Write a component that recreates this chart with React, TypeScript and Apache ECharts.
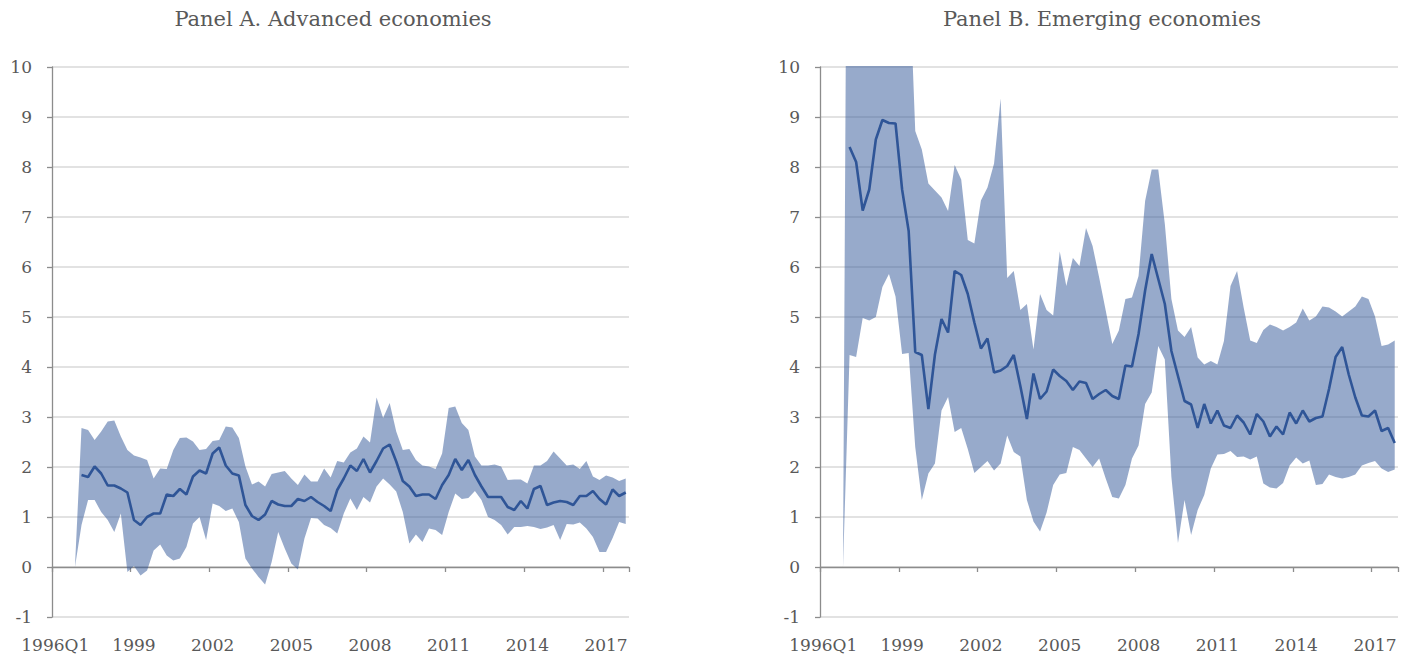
import React, { useEffect, useRef } from "react";
import * as echarts from "echarts";

// Quarterly categories 1996Q1 .. 2017Q4
const years: number[] = [1996,1997,1998,1999,2000,2001,2002,2003,2004,2005,2006,2007,2008,2009,2010,2011,2012,2013,2014,2015,2016,2017];
const categories: string[] = years.flatMap((y) => [1, 2, 3, 4].map((q) => `${y}Q${q}`));

const titleA = "Panel A. Advanced economies";
const titleB = "Panel B. Emerging economies";
const yMin = -1;
const yMax = 10;

// Panel A: advanced economies
const lowerA: (number | null)[] = [null,null,null, 0, 0.84, 1.34, 1.34, 1.10, 0.94, 0.70, 1.07, -0.10, 0.02, -0.17, -0.07, 0.33, 0.45, 0.23, 0.13, 0.17, 0.40, 0.87, 1.00, 0.54, 1.27, 1.22, 1.12, 1.17, 0.90, 0.17, -0.03, -0.20, -0.35, 0.10, 0.70, 0.37, 0.07, -0.05, 0.57, 0.98, 0.97, 0.84, 0.78, 0.67, 1.07, 1.37, 1.14, 1.40, 1.29, 1.61, 1.77, 1.65, 1.51, 1.10, 0.47, 0.65, 0.50, 0.77, 0.74, 0.64, 1.10, 1.47, 1.36, 1.38, 1.52, 1.34, 1.00, 0.94, 0.84, 0.65, 0.80, 0.80, 0.82, 0.80, 0.76, 0.79, 0.84, 0.54, 0.86, 0.85, 0.89, 0.77, 0.60, 0.30, 0.30, 0.58, 0.90, 0.86];
const upperA: (number | null)[] = [null,null,null, 0, 2.78, 2.74, 2.54, 2.71, 2.91, 2.93, 2.61, 2.34, 2.23, 2.19, 2.14, 1.77, 1.97, 1.96, 2.34, 2.58, 2.59, 2.51, 2.34, 2.36, 2.52, 2.54, 2.81, 2.79, 2.58, 2.01, 1.65, 1.71, 1.61, 1.86, 1.89, 1.92, 1.77, 1.64, 1.85, 1.71, 1.71, 1.97, 1.79, 2.12, 2.09, 2.29, 2.37, 2.61, 2.49, 3.39, 2.98, 3.28, 2.71, 2.34, 2.36, 2.14, 2.03, 2.01, 1.96, 2.27, 3.18, 3.21, 2.88, 2.74, 2.21, 2.03, 2.03, 2.05, 2.01, 1.74, 1.75, 1.75, 1.67, 2.03, 2.03, 2.12, 2.31, 2.17, 2.03, 2.05, 1.96, 2.12, 1.81, 1.74, 1.83, 1.79, 1.72, 1.77];
const midA: (number | null)[] = [null,null,null,null, 1.84, 1.80, 2.01, 1.87, 1.63, 1.63, 1.57, 1.49, 0.94, 0.84, 1.00, 1.07, 1.07, 1.45, 1.42, 1.56, 1.45, 1.81, 1.93, 1.87, 2.27, 2.39, 2.03, 1.87, 1.83, 1.24, 1.02, 0.94, 1.05, 1.32, 1.25, 1.22, 1.22, 1.36, 1.32, 1.40, 1.30, 1.22, 1.12, 1.54, 1.77, 2.03, 1.92, 2.16, 1.89, 2.12, 2.37, 2.45, 2.11, 1.72, 1.61, 1.42, 1.45, 1.45, 1.36, 1.64, 1.84, 2.16, 1.94, 2.14, 1.84, 1.61, 1.40, 1.40, 1.40, 1.20, 1.14, 1.32, 1.17, 1.56, 1.62, 1.24, 1.29, 1.32, 1.30, 1.24, 1.42, 1.42, 1.52, 1.36, 1.25, 1.55, 1.42, 1.49];

// Panel B: emerging economies
const lowerB: (number | null)[] = [null,null,null, 0, 4.24, 4.20, 4.98, 4.93, 5.00, 5.60, 5.86, 5.41, 4.26, 4.28, 2.40, 1.34, 1.87, 2.07, 3.13, 3.40, 2.70, 2.78, 2.36, 1.88, 2.00, 2.12, 1.93, 2.07, 2.63, 2.30, 2.21, 1.34, 0.91, 0.71, 1.09, 1.64, 1.85, 1.88, 2.40, 2.34, 2.17, 2.00, 2.17, 1.77, 1.40, 1.37, 1.64, 2.17, 2.43, 3.26, 3.49, 4.42, 4.15, 1.80, 0.48, 1.34, 0.64, 1.14, 1.44, 1.97, 2.25, 2.26, 2.32, 2.20, 2.21, 2.15, 2.21, 1.67, 1.59, 1.57, 1.68, 2.03, 2.19, 2.07, 2.13, 1.64, 1.66, 1.85, 1.80, 1.77, 1.80, 1.85, 2.03, 2.08, 2.12, 1.97, 1.90, 1.95];
const upperB: (number | null)[] = [null,null,null, 0, 24, 13, 12.5, 12.5, 13, 13.5, 13, 13, 12.5, 12.2, 8.72, 8.35, 7.67, 7.53, 7.39, 7.12, 8.04, 7.75, 6.54, 6.47, 7.33, 7.59, 8.07, 9.37, 5.78, 5.92, 5.14, 5.26, 4.35, 5.46, 5.14, 5.03, 6.31, 5.62, 6.18, 6.02, 6.78, 6.42, 5.79, 5.13, 4.46, 4.73, 5.36, 5.39, 5.82, 7.32, 7.95, 7.95, 6.86, 5.36, 4.73, 4.60, 4.80, 4.19, 4.05, 4.12, 4.05, 4.52, 5.62, 5.92, 5.19, 4.53, 4.48, 4.74, 4.85, 4.80, 4.73, 4.80, 4.89, 5.17, 4.93, 5.01, 5.21, 5.19, 5.11, 5.01, 5.11, 5.21, 5.41, 5.36, 5.01, 4.42, 4.45, 4.53];
const midB: (number | null)[] = [null,null,null,null, 8.40, 8.10, 7.13, 7.55, 8.55, 8.94, 8.88, 8.87, 7.55, 6.72, 4.30, 4.24, 3.16, 4.25, 4.96, 4.69, 5.92, 5.84, 5.46, 4.89, 4.37, 4.57, 3.89, 3.93, 4.02, 4.24, 3.62, 2.96, 3.87, 3.36, 3.51, 3.95, 3.82, 3.72, 3.54, 3.71, 3.68, 3.36, 3.46, 3.54, 3.42, 3.36, 4.03, 4.01, 4.66, 5.53, 6.26, 5.76, 5.26, 4.32, 3.82, 3.32, 3.25, 2.78, 3.26, 2.87, 3.13, 2.83, 2.78, 3.03, 2.89, 2.65, 3.06, 2.91, 2.61, 2.81, 2.65, 3.09, 2.87, 3.13, 2.91, 2.98, 3.01, 3.56, 4.20, 4.40, 3.85, 3.39, 3.03, 3.01, 3.13, 2.72, 2.78, 2.48];

const FONT = "'DejaVu Serif', serif";
const TEXT = "#595959";
const AXIS = "#8c8c8c";
const GRID = "#d9d9d9";
const LINE = "#2f5597";
const BAND = "rgba(47,85,151,0.5)";

function diff(up: (number | null)[], lo: (number | null)[]) {
  return up.map((u, i) => (u == null || lo[i] == null ? null : +(u - (lo[i] as number)).toFixed(3)));
}

function buildAxes(g: number) {
  const labelAxis = {
    type: "category",
    gridIndex: g,
    data: categories,
    boundaryGap: true,
    position: "bottom",
    axisLine: { show: false, onZero: false },
    axisTick: { show: false },
    axisLabel: {
      interval: 11,
      margin: 19,
      color: TEXT,
      fontFamily: FONT,
      fontSize: 17,
      formatter: (v: string, idx: number) => (idx === 0 ? v : v.slice(0, 4)),
    },
    splitLine: { show: false },
  };
  const zeroAxis = {
    type: "category",
    gridIndex: g,
    data: categories,
    boundaryGap: true,
    position: "bottom",
    axisLine: { show: true, onZero: true, lineStyle: { color: AXIS, width: 1.3 } },
    axisTick: { show: true, interval: 11, length: 5, lineStyle: { color: AXIS, width: 1.3 } },
    axisLabel: { show: false },
    splitLine: { show: false },
  };
  const yAxis = {
    type: "value",
    gridIndex: g,
    min: yMin,
    max: yMax,
    interval: 1,
    axisLine: { show: true, lineStyle: { color: AXIS, width: 1.3 } },
    axisTick: { show: true, length: 5, lineStyle: { color: AXIS, width: 1.3 } },
    axisLabel: { margin: 20, color: TEXT, fontFamily: FONT, fontSize: 17 },
    splitLine: { show: true, lineStyle: { color: GRID, width: 1.5 } },
  };
  return { xs: [labelAxis, zeroAxis], y: yAxis };
}

function buildSeries(g: number, lo: (number | null)[], up: (number | null)[], mid: (number | null)[]) {
  const stack = "band" + g;
  return [
    {
      type: "line",
      xAxisIndex: g * 2,
      yAxisIndex: g,
      data: lo,
      stack,
      stackStrategy: "all",
      symbol: "none",
      lineStyle: { opacity: 0 },
      silent: true,
    },
    {
      type: "line",
      xAxisIndex: g * 2,
      yAxisIndex: g,
      data: diff(up, lo),
      stack,
      stackStrategy: "all",
      symbol: "none",
      lineStyle: { opacity: 0 },
      areaStyle: { color: BAND, opacity: 1 },
      silent: true,
    },
    {
      type: "line",
      xAxisIndex: g * 2,
      yAxisIndex: g,
      data: mid,
      symbol: "none",
      lineStyle: { color: LINE, width: 2.6 },
      silent: true,
    },
  ];
}

export default function App() {
  const ref = useRef<HTMLDivElement>(null);
  useEffect(() => {
    if (!ref.current) return;
    const chart = echarts.init(ref.current, undefined, { renderer: "svg" });
    const a = buildAxes(0);
    const b = buildAxes(1);
    chart.setOption({
      animation: false,
      backgroundColor: "#ffffff",
      textStyle: { fontFamily: FONT },
      grid: [
        { left: 52, top: 67, width: 577, height: 550, containLabel: false },
        { left: 820, top: 67, width: 578, height: 550, containLabel: false },
      ],
      xAxis: [...a.xs, ...b.xs],
      yAxis: [a.y, b.y],
      series: [...buildSeries(0, lowerA, upperA, midA), ...buildSeries(1, lowerB, upperB, midB)],
      graphic: [
        {
          type: "text",
          x: 333,
          y: 19,
          style: { text: titleA, fill: TEXT, font: `21px ${FONT}`, textAlign: "center", textVerticalAlign: "middle" },
        },
        {
          type: "text",
          x: 1102,
          y: 19,
          style: { text: titleB, fill: TEXT, font: `21px ${FONT}`, textAlign: "center", textVerticalAlign: "middle" },
        },
      ],
    });
    return () => chart.dispose();
  }, []);
  return (
    <div
      ref={ref}
      style={{ position: "absolute", left: 0, top: 0, width: 1418, height: 664, background: "#fff" }}
    />
  );
}
